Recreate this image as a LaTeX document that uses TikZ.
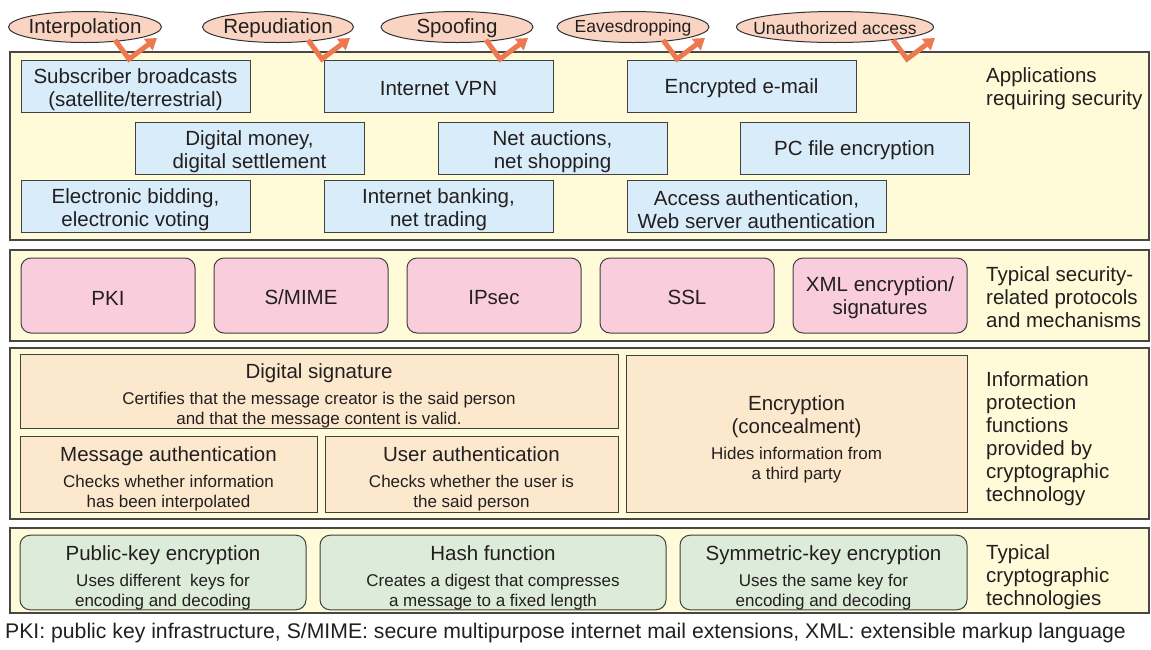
\documentclass[tikz,border=0pt]{standalone}
\usepackage{fontspec}
\setmainfont{Liberation Sans}
\usetikzlibrary{calc,arrows.meta,shapes.geometric}

\definecolor{bandyellow}{RGB}{255,251,216}
\definecolor{appblue}{RGB}{217,236,249}
\definecolor{protopink}{RGB}{249,205,219}
\definecolor{functan}{RGB}{252,233,205}
\definecolor{techgreen}{RGB}{221,235,217}
\definecolor{threatpeach}{RGB}{249,212,194}
\definecolor{threatorange}{RGB}{236,121,80}
\definecolor{inkgray}{RGB}{35,31,32}

\newcommand\boxtitle{\fontsize{20.5}{23}\selectfont}
\newcommand\boxnote{\fontsize{17}{20}\selectfont}
\newcommand\threatsmall{\fontsize{17.5}{20}\selectfont}
% invisible strut that pushes a text block a little lower in its box
\newcommand\padtop[1]{\rule{0pt}{#1pt}}

% bent arrow hanging off a threat, #1 is the bottom of the V
\def\threat(#1){\draw[threatarrow] ($(#1)+(-14,-19)$) -- (#1) -- ++(28,-21);}

\begin{document}
\begin{tikzpicture}[x=1pt,y=-1pt,
  band/.style={draw=black!72, line width=1.6pt, fill=bandyellow},
  threatnode/.style={ellipse, draw=black!80, line width=1pt, fill=threatpeach,
    minimum height=31pt, inner sep=0pt, font=\boxtitle, text=inkgray},
  threatarrow/.style={draw=threatorange, line width=5pt, line join=miter,
    -{Triangle[length=11pt,width=14pt]}},
  appbox/.style={draw=black!75, line width=1pt, fill=appblue, minimum width=229pt,
    minimum height=52pt, inner sep=0pt, align=center, font=\boxtitle, text=inkgray},
  protobox/.style={draw=black!75, line width=1pt, fill=protopink, rounded corners=10pt,
    minimum width=174pt, minimum height=75pt, inner sep=0pt, align=center,
    font=\boxtitle, text=inkgray},
  funcbox/.style={draw=black!75, line width=1pt, fill=functan, inner sep=0pt,
    align=center, font=\boxtitle, text=inkgray},
  techbox/.style={draw=black!75, line width=1pt, fill=techgreen, rounded corners=10pt,
    minimum height=71pt, inner sep=0pt, align=center, font=\boxtitle, text=inkgray},
  sidelabel/.style={anchor=west, align=left, inner sep=0pt, font=\boxtitle, text=inkgray}]
\useasboundingbox (0,0) rectangle (1151,649);
%%%%% START %%%%%

% threats along the top
\node[threatnode, minimum width=153pt] (int) at (85,27) {\padtop{17}\makebox[0pt]{Interpolation}};
\node[threatnode, minimum width=151pt] (rep) at (278,27) {\padtop{17}\makebox[0pt]{Repudiation}};
\node[threatnode, minimum width=152pt] (spf) at (457,27) {\padtop{17}\makebox[0pt]{Spoofing}};
\node[threatnode, minimum width=152pt, font=\threatsmall] (eav) at (633,27) {\padtop{15}\makebox[0pt]{Eavesdropping}};
\node[threatnode, minimum width=197pt, font=\threatsmall] (una) at (835,27) {\padtop{15}\makebox[0pt]{Unauthorized access}};

% the four layers
\draw[band] (10,52) rectangle (1149,240);
\draw[band] (10,250) rectangle (1149,341);
\draw[band] (10,348) rectangle (1149,519);
\draw[band] (10,528) rectangle (1149,613);

% applications
\node[appbox] (subs) at (135.5,86) {\padtop{22}Subscriber broadcasts\\(satellite/terrestrial)};
\node[appbox] (vpn) at (438.5,86) {\padtop{20}Internet VPN};
\node[appbox] (mail) at (741.5,86) {\padtop{20}Encrypted e-mail};
\node[appbox] (money) at (249.5,148) {\padtop{22}Digital money,\\digital settlement};
\node[appbox] (auction) at (552.5,148) {\padtop{22}Net auctions,\\net shopping};
\node[appbox] (pcfile) at (854.5,148) {\padtop{20}PC file encryption};
\node[appbox] (bid) at (135.5,206.5) {\padtop{22}Electronic bidding,\\electronic voting};
\node[appbox] (bank) at (438.5,206.5) {\padtop{22}Internet banking,\\net trading};
\node[appbox, minimum width=259pt] (access) at (756.5,206.5) {\padtop{22}Access authentication,\\Web server authentication};
\node[sidelabel] (applbl) at (986,86) {\padtop{20}Applications\\requiring security};

% protocols
\node[protobox] (pki) at (108,295.5) {\padtop{19}PKI};
\node[protobox] (smime) at (301,295.5) {\padtop{19}S/MIME};
\node[protobox] (ipsec) at (494,295.5) {\padtop{19}IPsec};
\node[protobox] (ssl) at (687,295.5) {\padtop{19}SSL};
\node[protobox] (xml) at (880,295.5) {\padtop{20}XML encryption/\\signatures};
\node[sidelabel] (protolbl) at (986,295.5) {\padtop{19}Typical security-\\related protocols\\and mechanisms};

% protection functions
\node[funcbox, minimum width=598pt, minimum height=73pt] (sig) at (319,391.5)
  {\padtop{24}Digital signature\\[3pt]{\boxnote Certifies that the message creator is the said person}\\[-3pt]{\boxnote and that the message content is valid.}};
\node[funcbox, minimum width=297pt, minimum height=76pt] (msgauth) at (168.5,474)
  {\padtop{24}Message authentication\\[3pt]{\boxnote Checks whether information}\\[-3pt]{\boxnote has been interpolated}};
\node[funcbox, minimum width=293pt, minimum height=76pt] (usrauth) at (471.5,474)
  {\padtop{24}User authentication\\[3pt]{\boxnote Checks whether the user is}\\[-3pt]{\boxnote the said person}};
\node[funcbox, minimum width=341pt, minimum height=157pt] (enc) at (796.5,433.5)
  {\padtop{26}Encryption\\(concealment)\\[3pt]{\boxnote Hides information from}\\[-3pt]{\boxnote a third party}};
\node[sidelabel] (funclbl) at (986,436) {\padtop{20}Information\\protection\\functions\\provided by\\cryptographic\\technology};

% cryptographic technologies
\node[techbox, minimum width=286pt] (pub) at (163,572.5)
  {\padtop{25}Public-key encryption\\[3pt]{\boxnote Uses different\ \ keys for}\\[-3pt]{\boxnote encoding and decoding}};
\node[techbox, minimum width=346pt] (hash) at (493,572.5)
  {\padtop{25}Hash function\\[3pt]{\boxnote Creates a digest that compresses}\\[-3pt]{\boxnote a message to a fixed length}};
\node[techbox, minimum width=287pt] (sym) at (823.5,572.5)
  {\padtop{25}Symmetric-key encryption\\[3pt]{\boxnote Uses the same key for}\\[-3pt]{\boxnote encoding and decoding}};
\node[sidelabel] (techlbl) at (986,575) {\padtop{20}Typical\\cryptographic\\technologies};

% footnote
\node[anchor=west, inner sep=0pt, font=\fontsize{21.2}{24}\selectfont, text=inkgray] (abbr) at (5,633)
  {PKI: public key infrastructure, S/MIME: secure multipurpose internet mail extensions, XML: extensible markup language};

% threat arrows, drawn last so they sit on the top layer
\coordinate (int-v) at ($(int.center)+(44,32)$);
\coordinate (rep-v) at ($(rep.center)+(44,32)$);
\coordinate (spf-v) at ($(spf.center)+(43,32)$);
\coordinate (eav-v) at ($(eav.center)+(44,32)$);
\coordinate (una-v) at ($(una.center)+(72,32)$);
\threat(int-v)
\threat(rep-v)
\threat(spf-v)
\threat(eav-v)
\threat(una-v)

%%%%% END %%%%%
\end{tikzpicture}
\end{document}
